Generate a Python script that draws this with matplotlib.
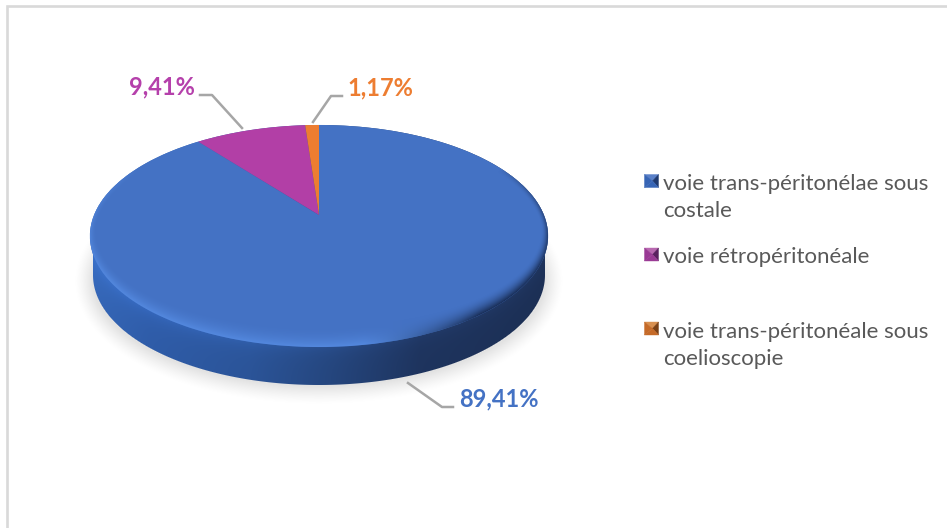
import numpy as np
import matplotlib
matplotlib.use("Agg")
import matplotlib.pyplot as plt
from matplotlib.colors import to_rgb
from matplotlib.patches import Polygon
from matplotlib.transforms import Transform

categories = ["voie trans-péritonélae sous\ncostale", "voie rétropéritonéale",
              "voie trans-péritonéale sous\ncoelioscopie"]
values = [89.41, 9.41, 1.17]
colors = ["#4472c4", "#b23fa6", "#ed7d31"]
label_colors = ["#4472c4", "#b540ab", "#ed7d31"]
dark_colors = ["#1f3a70", "#5a2160", "#7a4015"]
mid_colors = ["#3765b5", "#9a3a95", "#c56a28"]
light_colors = ["#5a80c8", "#b868b0", "#d89050"]

W, H = 947, 528
plt.rcParams["font.family"] = ["Lato", "DejaVu Sans"]
fig = plt.figure(figsize=(W / 100, H / 100), dpi=100, facecolor="white")
ax = fig.add_axes([0, 0, 1, 1])

CX, CY, RX, RY = 319.0, 236.0, 229.0, 111.0


class Tilt(Transform):
    """Perspective projection of the unit pie disc onto the page."""
    input_dims = 2
    output_dims = 2
    is_separable = False
    has_inverse = False
    c = 42 / 222
    a = -66.4
    b = 215.0
    X = 225.0

    def transform_non_affine(self, values):
        v = np.asarray(values, dtype=float)
        d = 1 + self.c * v[:, 1]
        return np.column_stack([CX + self.X * v[:, 0] / d, (self.a * v[:, 1] + self.b) / d])


yy, xx = np.mgrid[0:H, 0:W] + 0.5


def ell(cx, cy, rx, ry):
    dx, dy = (xx - cx) / rx, (yy - cy) / ry
    rho = np.sqrt(dx ** 2 + dy ** 2) + 1e-9
    grad = np.sqrt((dx / rx) ** 2 + (dy / ry) ** 2) / rho + 1e-9
    return (1 - rho) / grad, dx / rho, dy / rho


def show(rgb, alpha, z):
    img = np.dstack([np.clip(rgb, 0, 1), np.clip(alpha, 0, 1)])
    ax.imshow(img, extent=(0, W, H, 0), aspect="auto", zorder=z, interpolation="bilinear")


# soft drop shadow
d_sh, _, _ = ell(CX, 281, 236, 115)
show(np.full((H, W, 3), 0.84), np.clip((d_sh + 8) / 18, 0, 1) ** 1.3 * 0.7, 1)

# side wall of the disc
stops_x = [93, 150, 250, 330, 420, 545]
stops_c = ["#3566b6", "#2f5ca8", "#2b5498", "#25467e", "#1e345e", "#1c2f54"]
rgb_stops = np.array([to_rgb(c) for c in stops_c])
side = np.dstack([np.interp(xx, stops_x, rgb_stops[:, i]) for i in range(3)])
d_bot, _, _ = ell(CX, 275, 226, 110)
d_top0, _, _ = ell(CX, CY, RX, RY)
glow = 1 + 0.12 * np.exp(np.minimum(d_top0, 0) / 8.0)
side = side * glow[..., None]
in_band = np.where((yy > CY) & (yy < 275) & (np.abs(xx - CX) < 226), 1.0, 0.0)
side_alpha = np.maximum.reduce([np.clip(d_bot + 0.5, 0, 1), np.clip(d_top0 + 0.5, 0, 1), in_band])
show(side, side_alpha, 2)

# top face, one wedge per category
wedges, _ = ax.pie(values, colors=colors, startangle=90, counterclock=False,
                   wedgeprops={"linewidth": 0})
tilt = Tilt()
for w in wedges:
    w.set_transform(tilt + ax.transData)
    w.set_zorder(3)

# bevel along the rim of the face
d_top, nx, ny = ell(CX, CY, RX, RY)
u = (xx - CX) / RX
band = 6 + 15 * np.clip(ny + 0.1, 0, 1)
t = np.clip(1 - d_top / band, 0, 1) ** 2.0
inside = np.clip(d_top + 0.5, 0, 1)
dark_w = np.clip((u - 0.2) / 0.5, 0, 1)
light_rgb = np.array(to_rgb("#5a92ea"))
dark_rgb = np.array(to_rgb("#16294f"))
bevel = light_rgb * (1 - dark_w[..., None]) + dark_rgb * dark_w[..., None]
show(bevel, t * inside * (0.7 * (1 - dark_w) + 0.95 * dark_w) * np.clip(ny + 0.6, 0, 1) ** 0.5, 4)

# outer chart border
ax.plot([7.2, 7.2, W + 2], [H + 2, 6.2, 6.2], color="#d9d9d9", lw=1.9, zorder=0, solid_joinstyle="miter")

# leader lines and value labels
leaders = [([408, 442, 453], [383, 407, 407]),
           ([242, 212, 200], [128, 95, 95]),
           ([313, 331, 342], [122, 96, 96])]
label_pos = [(459, 399), (129, 87), (347, 88)]
for i, v in enumerate(values):
    ax.plot(leaders[i][0], leaders[i][1], color="#a6a6a6", lw=1.8, zorder=5)
    ax.text(label_pos[i][0], label_pos[i][1], f"{v:.2f}%".replace(".", ","), color=label_colors[i],
            fontsize=17, fontweight="bold", va="center", ha="left", zorder=6)

# legend
marker_top = [174.5, 248, 322]
text_base = [217, 263, 365]
for i, cat in enumerate(categories):
    x0, x1, y0, y1 = 644.5, 658.5, marker_top[i], marker_top[i] + 13
    xc, yc = 652.5, (y0 + y1) / 2
    facets = [([(x0, y0), (x1, y0), (xc, yc)], light_colors[i]),
              ([(x0, y0), (x0, y1), (xc, yc)], mid_colors[i]),
              ([(x1, y0), (x1, y1), (xc, yc)], dark_colors[i]),
              ([(x0, y1), (x1, y1), (xc, yc)], mid_colors[i])]
    for pts, col in facets:
        ax.add_patch(Polygon(pts, closed=True, facecolor=col, edgecolor=col, lw=0.3, zorder=6))
    ax.text(663, text_base[i], cat, color="#595959", fontsize=16, va="baseline", ha="left",
            linespacing=1.45, zorder=6)

ax.set_aspect("auto")
ax.set_xlim(0, W)
ax.set_ylim(H, 0)
ax.set_axis_off()
fig.savefig("out.png", dpi=100, facecolor="white")
